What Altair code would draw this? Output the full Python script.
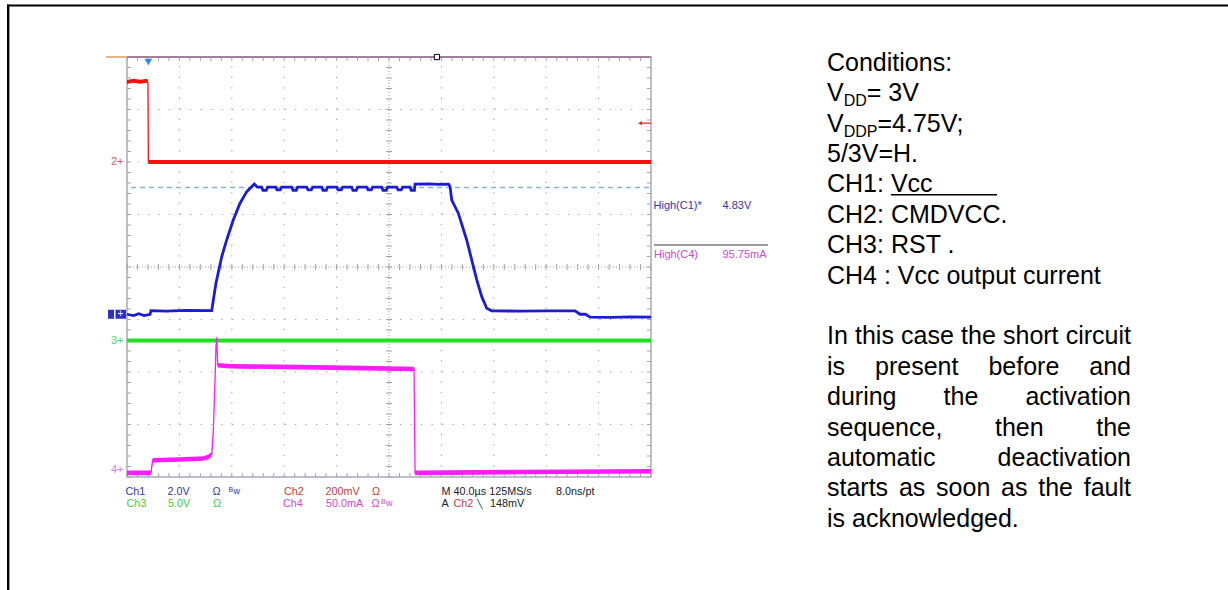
import altair as alt
import pandas as pd

W, H = 1228, 590

# ---------------- oscilloscope settings ----------------
US_PER_DIV = 40.0
SCALE_PER_DIV = {"Ch1": 2.0, "Ch2": 0.2, "Ch3": 5.0, "Ch4": 50.0}   # V/div, V/div, V/div, mA/div
GROUND_DIV = {"Ch1": -0.90, "Ch2": 2.00, "Ch3": -1.40, "Ch4": -3.87}  # ground markers, divisions from centre
TRIGGER_T_US = 16.3
TRIGGER_LEVEL_V = 0.148
HIGH_C1_V = 4.83
HPOS_T_US = 236.6

# ---------------- traces: (time in µs from left edge, value) ----------------
CH1_VCC_V = [
    (0, 0.0), (5, -0.05), (9, 0.02), (13, -0.05), (17.6, 0.0), (18.3, 0.14), (30, 0.12), (45, 0.15),
    (64.7, 0.14), (65.9, 0.54), (67.9, 1.18), (72.3, 2.19), (76.1, 2.83), (81.1, 3.59), (86.3, 4.23),
    (91.4, 4.67), (97.2, 4.96), (99.5, 4.84),
    (102.8, 4.84), (103.8, 4.72), (106.3, 4.72), (107.3, 4.84),
    (113.5, 4.84), (114.5, 4.74), (117.0, 4.74), (118.0, 4.84),
    (125.7, 4.84), (126.7, 4.72), (129.2, 4.72), (130.2, 4.84),
    (137.2, 4.84), (138.2, 4.74), (140.7, 4.74), (141.7, 4.84),
    (148.6, 4.84), (149.6, 4.72), (152.1, 4.72), (153.1, 4.84),
    (160.1, 4.84), (161.1, 4.74), (163.6, 4.74), (164.6, 4.84),
    (171.5, 4.84), (172.5, 4.72), (175.0, 4.72), (176.0, 4.84),
    (183.0, 4.84), (184.0, 4.74), (186.5, 4.74), (187.5, 4.84),
    (194.4, 4.84), (195.4, 4.72), (197.9, 4.72), (198.9, 4.84),
    (205.9, 4.84), (206.9, 4.74), (209.4, 4.74), (210.4, 4.84),
    (216.0, 4.84), (217.0, 4.72), (219.4, 4.72), (219.9, 4.96),
    (230, 4.97), (238, 4.95), (245.5, 4.96), (246.6, 4.86), (247.9, 4.35), (252.9, 3.85),
    (259.3, 2.83), (267.0, 1.31), (270.8, 0.67), (274.6, 0.23), (278.4, 0.13), (300, 0.12),
    (320, 0.13), (342, 0.13), (345.8, 0.0), (350, 0.0), (353.5, -0.11), (370, -0.12),
    (385, -0.10), (400, -0.11),
]
CH2_CMDVCC_V = [(0, 0.305), (5, 0.310), (10, 0.306), (15.5, 0.310), (16.0, 0.300), (16.3, 0.0), (400, 0.0)]
CH3_RST_V = [(0, 0.0), (400, 0.0)]
CH4_CURRENT_MA = [
    (0, -2.6), (18.3, -2.6), (19.6, 9.5), (40, 10.2), (58.2, 11.1), (61.8, 12.4), (64.7, 15.2),
    (65.9, 38.1), (67.2, 85.7), (67.9, 117.4), (68.5, 126.3), (69.2, 100.0), (78.6, 99.0),
    (132, 98.1), (180, 97.2), (219.1, 96.4), (219.9, -2.6), (300, -1.8), (399.3, -1.0), (400, -1.0),
]

# ---------------- text ----------------
COND_LINES = ["Conditions:", ("V", "DD", "= 3V"), ("V", "DDP", "=4.75V;"), "5/3V=H.",
              ("CH1: ", "Vcc"), "CH2: CMDVCC.", "CH3: RST .", "CH4 : Vcc output current"]
PARA_LINES = ["In this case the short circuit", "is present before and", "during the activation",
              "sequence, then the", "automatic deactivation", "starts as soon as the fault",
              "is acknowledged."]

# ---------------- screen geometry ----------------
GX0, GX1 = 127.0, 651.0
GY_TOP, GY_BOT = 57.0, 477.0
PX_PER_US = (GX1 - GX0) / (10 * US_PER_DIV)
PX_PER_DIV = (GY_BOT - GY_TOP) / 8
GY_MID = (GY_TOP + GY_BOT) / 2
X_DOM = [-GX0 / PX_PER_US, (W - GX0) / PX_PER_US]
Y_DOM = [(GY_MID - H) / PX_PER_DIV, GY_MID / PX_PER_DIV]
DPX = 1 / PX_PER_DIV   # divisions per pixel
UPX = 1 / PX_PER_US    # µs per pixel
T_END = 10 * US_PER_DIV

XS = alt.Scale(domain=X_DOM, nice=False, zero=False)
YS = alt.Scale(domain=Y_DOM, nice=False, zero=False)


def xq(f):
    return alt.X(f"{f}:Q", scale=XS, axis=None)


def yq(f):
    return alt.Y(f"{f}:Q", scale=YS, axis=None)


def trace_df(ch, pts):
    return pd.DataFrame({
        "t": [p[0] for p in pts],
        "d": [GROUND_DIV[ch] + p[1] / SCALE_PER_DIV[ch] for p in pts],
        "i": list(range(len(pts))),
    })


def band_layers(ch, pts, color, half_px):
    df = trace_df(ch, pts)
    df["lo"] = df["d"] - half_px * DPX
    df["hi"] = df["d"] + half_px * DPX
    band = alt.Chart(df).mark_area(color=color, opacity=1).encode(
        x=xq("t"), y=yq("lo"), y2=alt.Y2("hi"))
    line = alt.Chart(df).mark_line(color=color, strokeWidth=1.3).encode(
        x=xq("t"), y=yq("d"), order="i:Q")
    return [band, line]


layers = []

# ---------------- graticule ----------------
vgrid = pd.DataFrame({"t": [k * US_PER_DIV for k in (1, 2, 3, 4, 6, 7, 8, 9)], "a": -4.0, "b": 4.0})
hgrid = pd.DataFrame({"d": [-3.0, -2.0, -1.0, 1.0, 2.0, 3.0], "a": 0.0, "b": T_END})
dot = [1.3, PX_PER_DIV / 5 - 1.3]
layers.append(alt.Chart(vgrid).mark_rule(color="#a9a9a9", strokeWidth=1.2, strokeDash=dot).encode(
    x=xq("t"), y=yq("a"), y2=alt.Y2("b")))
layers.append(alt.Chart(hgrid).mark_rule(color="#a9a9a9", strokeWidth=1.2, strokeDash=dot).encode(
    y=yq("d"), x=xq("a"), x2=alt.X2("b")))
cv = pd.DataFrame({"t": [T_END / 2], "a": -4.0, "b": 4.0})
ch_ = pd.DataFrame({"d": [0.0], "a": 0.0, "b": T_END})
layers.append(alt.Chart(cv).mark_rule(color="#a0a0a0", strokeWidth=1, strokeDash=[1, 2]).encode(
    x=xq("t"), y=yq("a"), y2=alt.Y2("b")))
layers.append(alt.Chart(ch_).mark_rule(color="#a0a0a0", strokeWidth=1, strokeDash=[1, 2]).encode(
    y=yq("d"), x=xq("a"), x2=alt.X2("b")))

tick_rows = []
for k in range(51):
    t = k * US_PER_DIV / 5
    tick_rows.append((t, t, -3 * DPX, 3 * DPX))
    tick_rows.append((t, t, 4.0, 4.0 - 4 * DPX))
    tick_rows.append((t, t, -4.0, -4.0 + 4 * DPX))
for k in range(41):
    d = -4 + k * 0.2
    tick_rows.append((T_END / 2 - 3 * UPX, T_END / 2 + 3 * UPX, d, d))
    tick_rows.append((0.0, 4 * UPX, d, d))
    tick_rows.append((T_END - 4 * UPX, T_END, d, d))
ticks = pd.DataFrame(tick_rows, columns=["x1", "x2", "y1", "y2"])
layers.append(alt.Chart(ticks).mark_rule(color="#a4a4a4", strokeWidth=1).encode(
    x=xq("x1"), x2=alt.X2("x2"), y=yq("y1"), y2=alt.Y2("y2")))

border = pd.DataFrame({"t0": [0.0], "t1": [T_END], "d0": [-4.0], "d1": [4.0]})
layers.append(alt.Chart(border).mark_rect(filled=False, stroke="#a6a9ba", strokeWidth=1.5).encode(
    x=xq("t0"), x2=alt.X2("t1"), y=yq("d0"), y2=alt.Y2("d1")))
top_edge = pd.DataFrame({"a": [0.0], "b": [T_END], "d": [4.0]})
layers.append(alt.Chart(top_edge).mark_rule(color="#a0809a", strokeWidth=2).encode(
    x=xq("a"), x2=alt.X2("b"), y=yq("d")))
tan = pd.DataFrame({"a": [-21 * UPX], "b": [0.0], "d": [4.0]})
layers.append(alt.Chart(tan).mark_rule(color="#e8b48c", strokeWidth=2).encode(
    x=xq("a"), x2=alt.X2("b"), y=yq("d")))

# ---------------- traces ----------------
c1_high = GROUND_DIV["Ch1"] + HIGH_C1_V / SCALE_PER_DIV["Ch1"]
hl = pd.DataFrame({"a": [4 * UPX], "b": [T_END], "d": [c1_high]})
layers.append(alt.Chart(hl).mark_rule(color="#86b3d6", strokeWidth=1.5, strokeDash=[5, 4]).encode(
    x=xq("a"), x2=alt.X2("b"), y=yq("d")))

layers += band_layers("Ch2", CH2_CMDVCC_V, "#ff1010", 2.0)
layers += band_layers("Ch3", CH3_RST_V, "#22e022", 2.0)
layers += band_layers("Ch4", CH4_CURRENT_MA, "#ff1cff", 2.3)
layers.append(alt.Chart(trace_df("Ch1", CH1_VCC_V)).mark_line(color="#1c1cd2", strokeWidth=2.8).encode(
    x=xq("t"), y=yq("d"), order="i:Q"))

# trigger marker, horizontal position marker, trigger level arrow
trig = pd.DataFrame({"t": [TRIGGER_T_US], "d": [4.0 - 5 * DPX]})
layers.append(alt.Chart(trig).mark_point(shape="triangle-down", filled=True, size=60, color="#2b8be0",
                                         opacity=1).encode(x=xq("t"), y=yq("d")))
hpos = pd.DataFrame({"t": [HPOS_T_US], "d": [4.0]})
layers.append(alt.Chart(hpos).mark_square(fill="white", stroke="black", strokeWidth=1, size=28,
                                          opacity=1).encode(x=xq("t"), y=yq("d")))
lvl = GROUND_DIV["Ch2"] + TRIGGER_LEVEL_V / SCALE_PER_DIV["Ch2"]
arrow = pd.DataFrame({"a": [T_END - 11 * UPX], "b": [T_END], "d": [lvl]})
layers.append(alt.Chart(arrow).mark_rule(color="#e02020", strokeWidth=1.2).encode(
    x=xq("a"), x2=alt.X2("b"), y=yq("d")))
layers.append(alt.Chart(arrow).mark_point(shape="triangle-left", filled=True, size=18, color="#e02020",
                                          opacity=1).encode(x=xq("a"), y=yq("d")))

# ground markers
gm = pd.DataFrame({"d": [GROUND_DIV["Ch2"], GROUND_DIV["Ch3"], GROUND_DIV["Ch4"]],
                   "label": ["2+", "3+", "4+"],
                   "color": ["#d25c5c", "#5ad25a", "#e07ae0"]})
layers.append(alt.Chart(gm).mark_text(font="Liberation Sans", fontSize=11, align="left",
                                      baseline="middle").encode(
    x=alt.value(111), y=yq("d"), text="label:N", color=alt.Color("color:N", scale=None, legend=None)))
g1 = pd.DataFrame({"lo": [GROUND_DIV["Ch1"] - 4.5 * DPX], "hi": [GROUND_DIV["Ch1"] + 4.5 * DPX],
                   "d": [GROUND_DIV["Ch1"]], "label": ["+"]})
layers.append(alt.Chart(g1).mark_rect(color="#2e2ec8").encode(
    x=alt.value(108), x2=alt.value(126), y=yq("lo"), y2=alt.Y2("hi")))
layers.append(alt.Chart(g1).mark_rect(color="white").encode(
    x=alt.value(114), x2=alt.value(115.5), y=yq("lo"), y2=alt.Y2("hi")))
layers.append(alt.Chart(g1).mark_text(font="Liberation Sans", fontSize=10, color="white",
                                      baseline="middle", align="center").encode(
    x=alt.value(120.5), y=yq("d"), text="label:N"))


# ---------------- text helpers ----------------
def text_layer(rows, font="Liberation Sans", align="left"):
    df = pd.DataFrame(rows, columns=["x", "y", "text", "color", "size"])
    return alt.Chart(df).mark_text(font=font, align=align, baseline="alphabetic").encode(
        x=alt.X("x:Q", scale=None, axis=None),
        y=alt.Y("y:Q", scale=None, axis=None),
        text=alt.Text("text:N"),
        color=alt.Color("color:N", scale=None, legend=None),
        size=alt.Size("size:Q", scale=None, legend=None),
    )


NAVY, RED2, GREEN2, MAG2, DARK = "#3535a8", "#c83c3c", "#44cc44", "#d048d0", "#202028"
SF = 10.8
R1, R2 = 494.5, 506.8
scope_rows = [
    (125.5, R1, "Ch1", NAVY, SF), (167.5, R1, "2.0V", NAVY, SF), (212.5, R1, "Ω", NAVY, SF),
    (228.5, R1 - 3, "B", NAVY, 7), (233.5, R1 - 1, "w", NAVY, 9),
    (284, R1, "Ch2", RED2, SF), (325.5, R1, "200mV", RED2, SF), (372, R1, "Ω", RED2, SF),
    (441.5, R1, "M 40.0µs 125MS/s", DARK, SF), (556, R1, "8.0ns/pt", DARK, SF),
    (126.5, R2, "Ch3", GREEN2, SF), (168, R2, "5.0V", GREEN2, SF), (213, R2, "Ω", GREEN2, SF),
    (283, R2, "Ch4", MAG2, SF), (326, R2, "50.0mA", MAG2, SF), (371.5, R2, "Ω", MAG2, SF),
    (381, R2 - 3, "B", MAG2, 7), (386, R2 - 1, "w", MAG2, 9),
    (441.5, R2, "A", DARK, SF), (453.5, R2, "Ch2", RED2, SF), (477, R2, "╲", DARK, 9),
    (490, R2, "148mV", DARK, SF),
    (653.5, 208.5, "High(C1)*", NAVY, 11), (722.5, 208.5, "4.83V", NAVY, 11),
    (654, 258, "High(C4)", MAG2, 11), (722.5, 258, "95.75mA", MAG2, 11),
]
layers.append(text_layer(scope_rows))
mline = pd.DataFrame({"k": [0]})
layers.append(alt.Chart(mline).mark_rule(color="#3c3c3c", strokeWidth=1).encode(
    x=alt.value(654), x2=alt.value(768), y=alt.value(245)))

# ---------------- right-hand description ----------------
AW = dict(zip("abcdefghijklmnopqrstuvwxyz",
              [556, 556, 500, 556, 556, 278, 556, 556, 222, 222, 500, 222, 833, 556, 556, 556, 556,
               333, 500, 278, 556, 500, 722, 500, 500, 500]))
AW.update({" ": 278, ",": 278, ".": 278, ":": 278, "I": 278, "V": 667, "D": 722, "P": 667,
           "C": 722, "H": 722, "1": 556})


def tw(s, fs):
    return sum(AW[c] for c in s) * fs / 1000.0


L, R, FS, SUB = 827.0, 1131.0, 25, 16
B0, LS = 70.7, 30.4
rows = []
underline = None
for i, item in enumerate(COND_LINES):
    y = B0 + i * LS
    if isinstance(item, str):
        rows.append((L, y, item, "#000000", FS))
    elif len(item) == 3:
        x1 = L + tw(item[0], FS)
        rows.append((L, y, item[0], "#000000", FS))
        rows.append((x1, y + 5, item[1], "#000000", SUB))
        rows.append((x1 + tw(item[1], SUB), y, item[2], "#000000", FS))
    else:
        x1 = L + tw(item[0], FS)
        rows.append((L, y, item[0], "#000000", FS))
        rows.append((x1, y, item[1], "#000000", FS))
        underline = (x1, y + 2.5)
for j, line in enumerate(PARA_LINES):
    y = B0 + (len(COND_LINES) + 1 + j) * LS
    words = line.split()
    if j == len(PARA_LINES) - 1:
        rows.append((L, y, line, "#000000", FS))
        continue
    widths = [tw(w, FS) for w in words]
    gap = (R - L - sum(widths)) / (len(words) - 1)
    x = L
    for w, wd in zip(words, widths):
        rows.append((x, y, w, "#000000", FS))
        x += wd + gap
layers.append(text_layer(rows))
ul = pd.DataFrame({"k": [0]})
layers.append(alt.Chart(ul).mark_rule(color="#000000", strokeWidth=1.5).encode(
    x=alt.value(underline[0]), x2=alt.value(997), y=alt.value(underline[1])))

# ---------------- page frame ----------------
fr = pd.DataFrame({"k": [0]})
layers.append(alt.Chart(fr).mark_rule(color="#000000", strokeWidth=2.2).encode(
    x=alt.value(7), x2=alt.value(W), y=alt.value(5.5)))
layers.append(alt.Chart(fr).mark_rule(color="#000000", strokeWidth=2.4).encode(
    x=alt.value(8.2), y=alt.value(4.5), y2=alt.value(H)))

chart = alt.layer(*layers).resolve_scale(
    x="independent", y="independent", color="independent", size="independent"
).properties(
    width=W, height=H, padding=0, autosize=alt.AutoSizeParams(type="none"), background="white"
).configure_view(stroke=None)

chart.save("out.html", embed_options={"renderer": "svg", "actions": False})
